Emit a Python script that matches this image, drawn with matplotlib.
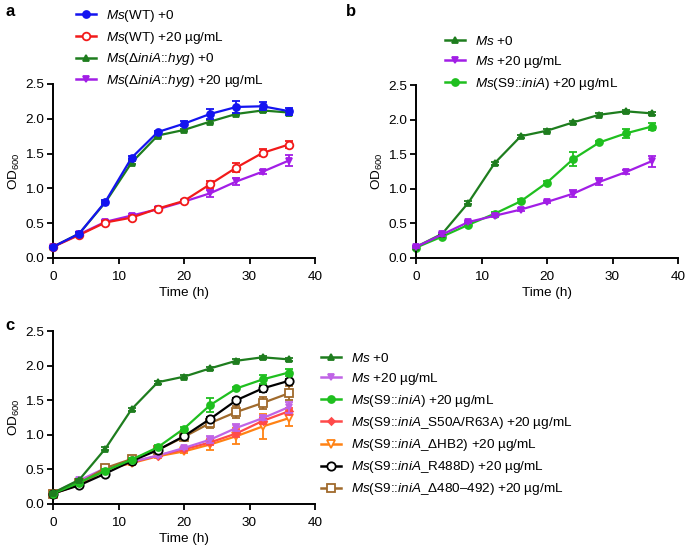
import matplotlib
matplotlib.use("Agg")
import matplotlib.pyplot as plt
from matplotlib.lines import Line2D

plt.rcParams['font.family'] = ['Liberation Sans', 'DejaVu Sans']
plt.rcParams['mathtext.fontset'] = 'custom'
plt.rcParams['mathtext.rm'] = 'Liberation Sans'
plt.rcParams['mathtext.it'] = 'Liberation Sans:italic'

time = [0, 4, 8, 12, 16, 20, 24, 28, 32, 36]

wt0 = [0.16, 0.35, 0.81, 1.44, 1.81, 1.93, 2.07, 2.17, 2.18, 2.11]
wt0_err = [0.01, 0.02, 0.02, 0.02, 0.02, 0.04, 0.07, 0.08, 0.06, 0.05]
wt20 = [0.16, 0.33, 0.51, 0.58, 0.71, 0.82, 1.06, 1.30, 1.51, 1.63]
wt20_err = [0.01, 0.02, 0.02, 0.03, 0.02, 0.02, 0.05, 0.06, 0.05, 0.05]
ko0 = [0.16, 0.35, 0.80, 1.37, 1.76, 1.84, 1.96, 2.07, 2.12, 2.09]
ko0_err = [0.01, 0.01, 0.02, 0.02, 0.02, 0.02, 0.02, 0.02, 0.02, 0.02]
ko20 = [0.16, 0.34, 0.52, 0.61, 0.70, 0.81, 0.93, 1.10, 1.24, 1.40]
ko20_err = [0.01, 0.02, 0.02, 0.02, 0.02, 0.02, 0.05, 0.05, 0.03, 0.08]
s9 = [0.15, 0.31, 0.48, 0.64, 0.82, 1.09, 1.43, 1.67, 1.80, 1.90]
s9_err = [0.01, 0.02, 0.02, 0.02, 0.03, 0.02, 0.10, 0.02, 0.06, 0.05]
s50 = [0.15, 0.28, 0.49, 0.60, 0.70, 0.79, 0.89, 1.02, 1.20, 1.34]
s50_err = [0.01, 0.02, 0.02, 0.02, 0.02, 0.02, 0.04, 0.05, 0.05, 0.05]
hb2 = [0.15, 0.28, 0.50, 0.59, 0.69, 0.76, 0.86, 0.98, 1.12, 1.24]
hb2_err = [0.01, 0.02, 0.02, 0.02, 0.02, 0.03, 0.08, 0.12, 0.18, 0.12]
r488 = [0.15, 0.27, 0.44, 0.62, 0.78, 0.98, 1.23, 1.50, 1.67, 1.78]
r488_err = [0.01, 0.02, 0.02, 0.02, 0.02, 0.02, 0.03, 0.03, 0.05, 0.02]
d480 = [0.15, 0.30, 0.52, 0.65, 0.78, 0.97, 1.17, 1.33, 1.46, 1.60]
d480_err = [0.01, 0.02, 0.02, 0.02, 0.02, 0.02, 0.07, 0.08, 0.08, 0.10]

C_BLUE = '#1414f0'
C_RED = '#f21a1a'
C_DGREEN = '#1e7d1e'
C_PURPLE = '#a21ee6'
C_LGREEN = '#1fbf1f'
C_LPURPLE = '#c064e6'
C_LRED = '#ff4a4a'
C_ORANGE = '#ff8214'
C_BLACK = '#000000'
C_BROWN = '#a06a2c'

FS = 9.7

fig = plt.figure(figsize=(6.85, 5.47), dpi=100)
W, H = 685, 547


def make_ax(x0, x1, ytop, ybot):
    return fig.add_axes([x0 / W, 1 - ybot / H, (x1 - x0) / W, (ybot - ytop) / H])


def style(ax):
    ax.set_xlim(0, 40)
    ax.set_ylim(0, 2.5)
    ax.set_xticks([0, 10, 20, 30, 40])
    ax.set_yticks([0, 0.5, 1.0, 1.5, 2.0, 2.5])
    ax.set_yticklabels(['0.0', '0.5', '1.0', '1.5', '2.0', '2.5'])
    for s in ['top', 'right']:
        ax.spines[s].set_visible(False)
    for s in ['left', 'bottom']:
        ax.spines[s].set_linewidth(1.4)
    ax.tick_params(direction='out', length=4, width=1.3, labelsize=FS)
    ax.tick_params(axis='x', pad=5)
    ax.tick_params(axis='y', pad=2.5)
    ax.set_xlabel('Time (h)', fontsize=FS, labelpad=3)
    ax.set_ylabel('OD$_{600}$', fontsize=FS, labelpad=2)
    ax.patch.set_alpha(0)


def series(ax, y, e, color, marker, filled=True, ms=5, label=None, z=2):
    ax.errorbar(time, y, yerr=e, color=color, marker=marker, ms=ms, lw=1.6,
                mfc=color if filled else 'white', mec=color, mew=1.3,
                capsize=2.8, capthick=1.3, elinewidth=1.3,
                clip_on=False, zorder=z)
    return Line2D([], [], color=color, marker=marker, ms=ms, lw=1.8,
                  mfc=color if filled else 'white', mec=color, mew=1.3, label=label)


def leg(handles, x, ytop, spacing):
    L = fig.legend(handles=handles, loc='upper left', bbox_to_anchor=(x / W, 1 - ytop / H),
                   frameon=False, fontsize=FS, handlelength=1.45, handletextpad=0.75,
                   labelspacing=spacing, borderaxespad=0, borderpad=0)
    return L

# Panel a
axa = make_ax(53, 315, 84, 258)
style(axa)
ha = [
    series(axa, wt0, wt0_err, C_BLUE, 'o', True, ms=5, label='$\\it{Ms}$(WT) +0', z=5),
    series(axa, wt20, wt20_err, C_RED, 'o', False, ms=5.5, label='$\\it{Ms}$(WT) +20 µg/mL', z=4),
    series(axa, ko0, ko0_err, C_DGREEN, '^', True, ms=5, label='$\\it{Ms}$(Δ$\\it{iniA}$::$\\it{hyg}$) +0', z=3),
    series(axa, ko20, ko20_err, C_PURPLE, 'v', True, ms=5, label='$\\it{Ms}$(Δ$\\it{iniA}$::$\\it{hyg}$) +20 µg/mL', z=2),
]
leg(ha, 76, 8, 0.42)

# Panel b
axb = make_ax(416, 678, 85, 258)
style(axb)
hb = [
    series(axb, ko0, ko0_err, C_DGREEN, '^', True, ms=5, label='$\\it{Ms}$ +0', z=3),
    series(axb, ko20, ko20_err, C_PURPLE, 'v', True, ms=5, label='$\\it{Ms}$ +20 µg/mL', z=4),
    series(axb, s9, s9_err, C_LGREEN, 'o', True, ms=5, label='$\\it{Ms}$(S9::$\\it{iniA}$) +20 µg/mL', z=2),
]
leg(hb, 445, 35, 0.45)

# Panel c
axc = make_ax(53, 315, 331, 504)
style(axc)
hc = [
    series(axc, ko0, ko0_err, C_DGREEN, '^', True, ms=5, label='$\\it{Ms}$ +0', z=8),
    series(axc, ko20, ko20_err, C_LPURPLE, 'v', True, ms=5, label='$\\it{Ms}$ +20 µg/mL', z=5),
    series(axc, s9, s9_err, C_LGREEN, 'o', True, ms=5, label='$\\it{Ms}$(S9::$\\it{iniA}$) +20 µg/mL', z=7),
    series(axc, s50, s50_err, C_LRED, 'D', True, ms=3.5, label='$\\it{Ms}$(S9::$\\it{iniA}$_S50A/R63A) +20 µg/mL', z=4),
    series(axc, hb2, hb2_err, C_ORANGE, 'v', False, ms=6, label='$\\it{Ms}$(S9::$\\it{iniA}$_ΔHB2) +20 µg/mL', z=3),
    series(axc, r488, r488_err, C_BLACK, 'o', False, ms=6, label='$\\it{Ms}$(S9::$\\it{iniA}$_R488D) +20 µg/mL', z=6),
    series(axc, d480, d480_err, C_BROWN, 's', False, ms=5.5, label='$\\it{Ms}$(S9::$\\it{iniA}$_Δ480–492) +20 µg/mL', z=5),
]
leg(hc, 321, 352, 0.45)

fig.text(5 / W, 1 - 4 / H, 'a', fontsize=12, fontweight='bold', va='top', ha='left')
fig.text(346 / W, 1 - 4 / H, 'b', fontsize=12, fontweight='bold', va='top', ha='left')
fig.text(5 / W, 1 - 318 / H, 'c', fontsize=12, fontweight='bold', va='top', ha='left')

fig.savefig('out.png', dpi=100)
